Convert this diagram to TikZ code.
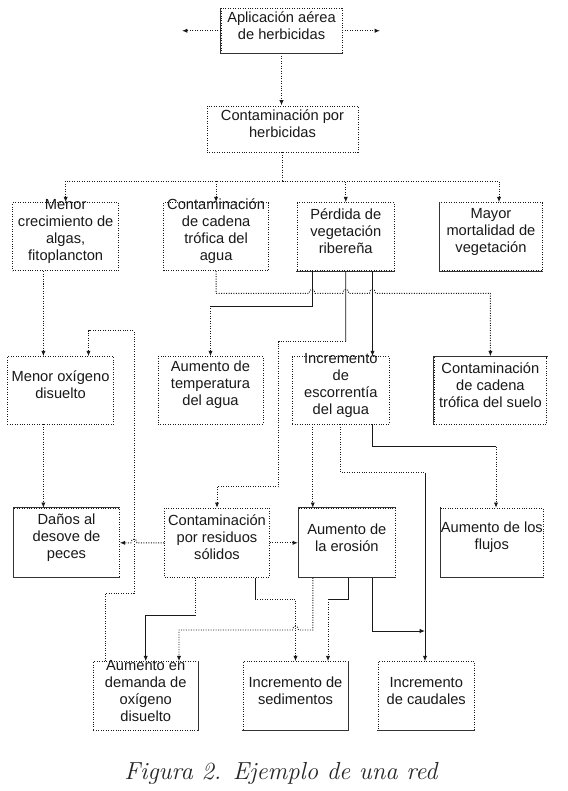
\documentclass[tikz,border=0pt]{standalone}
\usepackage{fontspec}
\newfontfamily\boxfont{Liberation Sans}
\usetikzlibrary{arrows.meta,fit}
\begin{document}
\begin{tikzpicture}[x=0.75pt,y=-0.75pt,
  box/.style={draw=black!90, dash pattern=on 0.75pt off 1.1pt, line width=0.7pt, inner sep=0pt, align=center,
    font=\boxfont\fontsize{11}{12.75}\selectfont, text=black!90},
  dl/.style={draw=black!90, dash pattern=on 0.75pt off 1.1pt, line width=0.7pt},
  sl/.style={draw=black!90, line width=0.65pt},
  se/.style={draw=black!80, line width=0.6pt, line cap=rect},
  >={Latex[length=4pt,width=3.2pt]}]
\useasboundingbox (0,0) rectangle (567,791);
\fill[white] (0,0) rectangle (567,791);

% boxes
\node[box, fit={(221,8.5) (342,53)}] (ap) {Aplicación aérea\\de herbicidas};
\node[box, fit={(207,106) (358,152)}] (ch) {Contaminación por\\herbicidas};
\node[box, fit={(12.7,202.7) (118.6,270.7)}] (mc) {Menor\\crecimiento de\\algas,\\fitoplancton};
\node[box, fit={(163.5,202.7) (268.7,270.7)}] (ca) {Contaminación\\de cadena\\trófica del\\agua};
\node[box, fit={(297.3,202.7) (394.2,270.7)}] (pv) {Pérdida de\\vegetación\\ribereña};
\node[box, fit={(439.4,202.7) (542.5,270.7)}] (mm) {Mayor\\mortalidad de\\vegetación};
\node[box, fit={(7.2,356.7) (113.9,424)}] (mo) {Menor oxígeno\\disuelto};
\node[box, fit={(158,356.7) (263,424)}] (at) {Aumento de\\temperatura\\del agua};
\node[box, fit={(292.2,356.7) (389.5,424)}] (ie) {Incremento\\de\\escorrentía\\del agua};
\node[box, fit={(434,356.7) (546.8,424)}] (cs) {Contaminación\\de cadena\\trófica del suelo};
\node[box, fit={(13.7,508.3) (119.3,577.3)}] (dd) {Daños al\\desove de\\peces};
\node[box, fit={(164.6,508.3) (269.4,577.3)}] (cr) {Contaminación\\por residuos\\sólidos};
\node[box, fit={(298.4,508.3) (395.3,577.3)}] (ae) {Aumento de\\la erosión};
\node[box, fit={(440.5,508.3) (543.2,577.3)}] (af) {Aumento de los\\flujos};
\node[box, fit={(93.3,661.7) (198.2,730)}] (ad) {Aumento en\\demanda de\\oxígeno\\disuelto};
\node[box, fit={(243,661.7) (348,730)}] (is) {Incremento de\\sedimentos};
\node[box, fit={(378,661.7) (474.5,730)}] (ic) {Incremento\\de caudales};

% solid-looking edges of some boxes
\draw[se] (ap.north west) -- (ap.south west) -- (ap.south east);
\draw[se] (mm.north west) -- (mm.south west) -- (mm.south east);
\draw[se] (pv.south west) -- (pv.south east);
\draw[se] (cs.south west) -- (cs.north west) -- (cs.north east);
\draw[se] (dd.north east) -- (dd.north west) -- (dd.south west) -- (dd.south east);
\draw[se] (ae.north east) -- (ae.north west) -- (ae.south west) -- (ae.south east);
\draw[se] (af.north west) -- (af.south west) -- (af.south east);
\draw[se] (ad.north east) -- (ad.south east);
\draw[se] (is.north east) -- (is.south east) -- (is.south west);
\draw[se] (ic.south west) -- (ic.south east);

% free ends
\coordinate (apL) at (182,30.75);
\coordinate (apR) at (380,30.75);
\coordinate (j1) at (282.5,181);

% top
\draw[dl,->] (ap.west) -- (apL);
\draw[dl,->] (ap.east) -- (apR);
\draw[dl,->] (ap.south) -- (ap.south |- ch.north);
\draw[dl] (ch.south) -- (j1);
\draw[dl,->] (j1) -| (mc.north);
\draw[dl,->] (j1) -| (ca.north);
\draw[dl,->] (j1) -| (pv.north);
\draw[dl,->] (j1) -| (mm.north -| 499,0);

% row 2 outgoing
\draw[dl,->] (mc.south -| 43.4,0) -- (mo.north -| 43.4,0);
\draw[dl,->] (ca.south) -- (216.1,293.3) -- (309,293.3)
  .. controls (309,288) and (315,288) .. (315,293.3) -- (342.75,293.3)
  .. controls (342.75,288) and (348.75,288) .. (348.75,293.3) -- (369.5,293.3)
  .. controls (369.5,288) and (375.5,288) .. (375.5,293.3) -- (490.4,293.3) -- (cs.north);
\draw[sl] (pv.south -| 312,0) |- (at.north |- 0,306) coordinate (c1);
\draw[dl,->] (c1) -- (at.north);
\draw[sl] (pv.south) -- (345.75,341.7) coordinate (c2);
\draw[dl,->] (c2) -- (278.5,341.7) -- (278.5,486.7) -| (cr.north);
\draw[sl,->] (pv.south -| 372.5,0) -- (ie.north -| 372.5,0);

% row 3 outgoing
\draw[dl,->] (mo.south -| 43.4,0) -- (dd.north -| 43.4,0);
\draw[dl,->] (ad.north -| 105,0) -- (105,593.3) -- (134,593.3) -- (134,330.7) -- (88.5,330.7) -- (mo.north -| 88.5,0);
\draw[dl,->] (ie.south -| 312.8,0) -- (ae.north -| 312.8,0);
\draw[dl] (ie.south -| 340.7,0) |- (425,472.7) coordinate (c3);
\draw[sl,->] (c3) -- (c3 |- ic.north);
\draw[sl] (ie.south -| 372.5,0) |- (496,446.7) coordinate (c4);
\draw[dl,->] (c4) -- (c4 |- af.north);

% row 4 outgoing
\draw[dl,->] (cr.west) -- (137,542.8) .. controls (137,538) and (131,538) .. (131,542.8) -- (dd.east);
\draw[dl,->] (cr.east) -- (ae.west);
\draw[dl] (cr.south -| 195.3,0) -- (195.3,615) coordinate (c5);
\draw[sl,->] (c5) -| (ad.north -| 145.7,0);
\draw[sl] (cr.south -| 255,0) -- (255,599.3) coordinate (c6);
\draw[dl,->] (c6) -| (is.north);
\draw[dl,->] (ae.south -| 312.8,0) -- (312.8,630) -- (298.5,630)
  .. controls (298.5,625) and (292.5,625) .. (292.5,630) -- (179,630) -- (ad.north -| 179,0);
\draw[sl] (ae.south -| 348,0) |- (328,599.3) coordinate (c7);
\draw[dl,->] (c7) -- (c7 |- is.north);
\draw[sl,->] (ae.south -| 372.5,0) |- (c3 |- 0,631);

% caption
\node[font=\fontsize{18.5}{22}\selectfont\itshape, text=black!85] (cap) at (281,773) {Figura 2. Ejemplo de una red};
\end{tikzpicture}
\end{document}
